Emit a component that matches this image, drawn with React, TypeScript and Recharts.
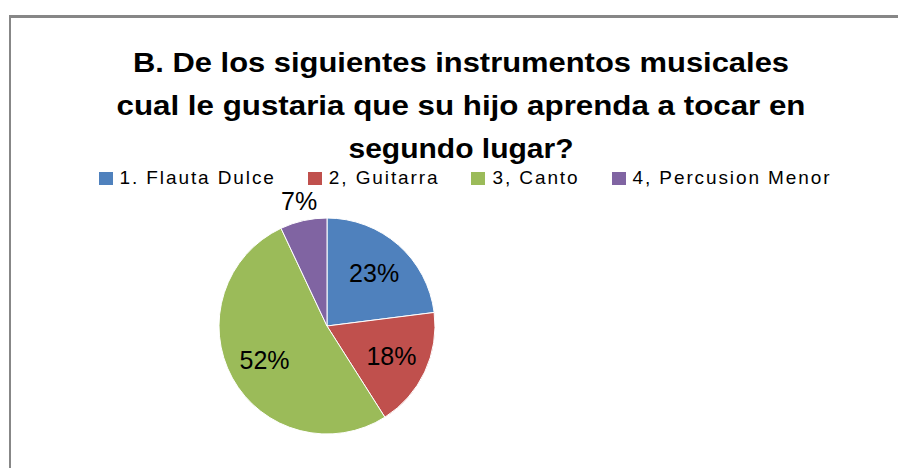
import { PieChart, Pie, Cell } from 'recharts';

const categories = ['1. Flauta Dulce', '2, Guitarra', '3, Canto', '4, Percusion Menor'];
const shares = [23, 18, 52, 7];
const colors = ['#4F81BD', '#C0504D', '#9BBB59', '#8064A2'];
const titleLines = [
  'B. De los siguientes instrumentos musicales',
  'cual le gustaria que su hijo aprenda a tocar en',
  'segundo lugar?',
];

const data = categories.map((name, i) => ({ name, value: shares[i] }));

const RADIAN = Math.PI / 180;

function renderLabel(props: any) {
  const { cx, cy, midAngle, outerRadius, percent } = props;
  const r = percent < 0.1 ? outerRadius + 20 : outerRadius * 0.66;
  const x = cx + r * Math.cos(-midAngle * RADIAN);
  const y = cy + r * Math.sin(-midAngle * RADIAN);
  return (
    <text
      x={x}
      y={y}
      textAnchor="middle"
      dominantBaseline="central"
      fill="#000"
      style={{ fontFamily: 'Liberation Sans, Arial, sans-serif', fontSize: 25 }}
    >
      {`${Math.round(percent * 100)}%`}
    </text>
  );
}

function ChartLegend() {
  return (
    <div
      style={{
        position: 'absolute',
        top: 167,
        left: 0,
        width: 930,
        display: 'flex',
        justifyContent: 'center',
        gap: 32,
        fontFamily: 'Liberation Sans, Arial, sans-serif',
        fontSize: 19,
        letterSpacing: 1.9,
        color: '#000',
        lineHeight: '22px',
      }}
    >
      {categories.map((c, i) => (
        <span key={c} style={{ display: 'flex', alignItems: 'center' }}>
          <span style={{ width: 14, height: 13, background: colors[i], marginRight: 7 }} />
          {c}
        </span>
      ))}
    </div>
  );
}

export default function App() {
  return (
    <div style={{ position: 'absolute', left: 0, top: 0, width: 898, height: 468, overflow: 'hidden', background: '#fff' }}>
      <div
        style={{
          position: 'absolute',
          left: 9,
          top: 15,
          width: 1200,
          height: 1200,
          borderTop: '3px solid #878787',
          borderLeft: '2px solid #878787',
        }}
      />
      <svg width={898} height={170} style={{ position: 'absolute', left: 0, top: 0 }}>
        {titleLines.map((t, i) => (
          <text
            key={t}
            x={461}
            y={72 + i * 43}
            textAnchor="middle"
            textLength={[656, 689, 225][i]}
            lengthAdjust="spacingAndGlyphs"
            style={{ fontFamily: 'Liberation Sans, Arial, sans-serif', fontSize: 27, fontWeight: 'bold' }}
            fill="#000"
          >
            {t}
          </text>
        ))}
      </svg>
      <ChartLegend />
      <div style={{ position: 'absolute', left: 0, top: 0 }}>
        <PieChart width={898} height={468} margin={{ top: 0, right: 0, bottom: 0, left: 0 }}>
          <Pie
            data={data}
            dataKey="value"
            cx={327}
            cy={326}
            outerRadius={108}
            startAngle={90}
            endAngle={-270}
            stroke="#fff"
            strokeWidth={1}
            label={renderLabel}
            labelLine={false}
            isAnimationActive={false}
          >
            {data.map((d, i) => (
              <Cell key={d.name} fill={colors[i]} />
            ))}
          </Pie>
        </PieChart>
      </div>
    </div>
  );
}
